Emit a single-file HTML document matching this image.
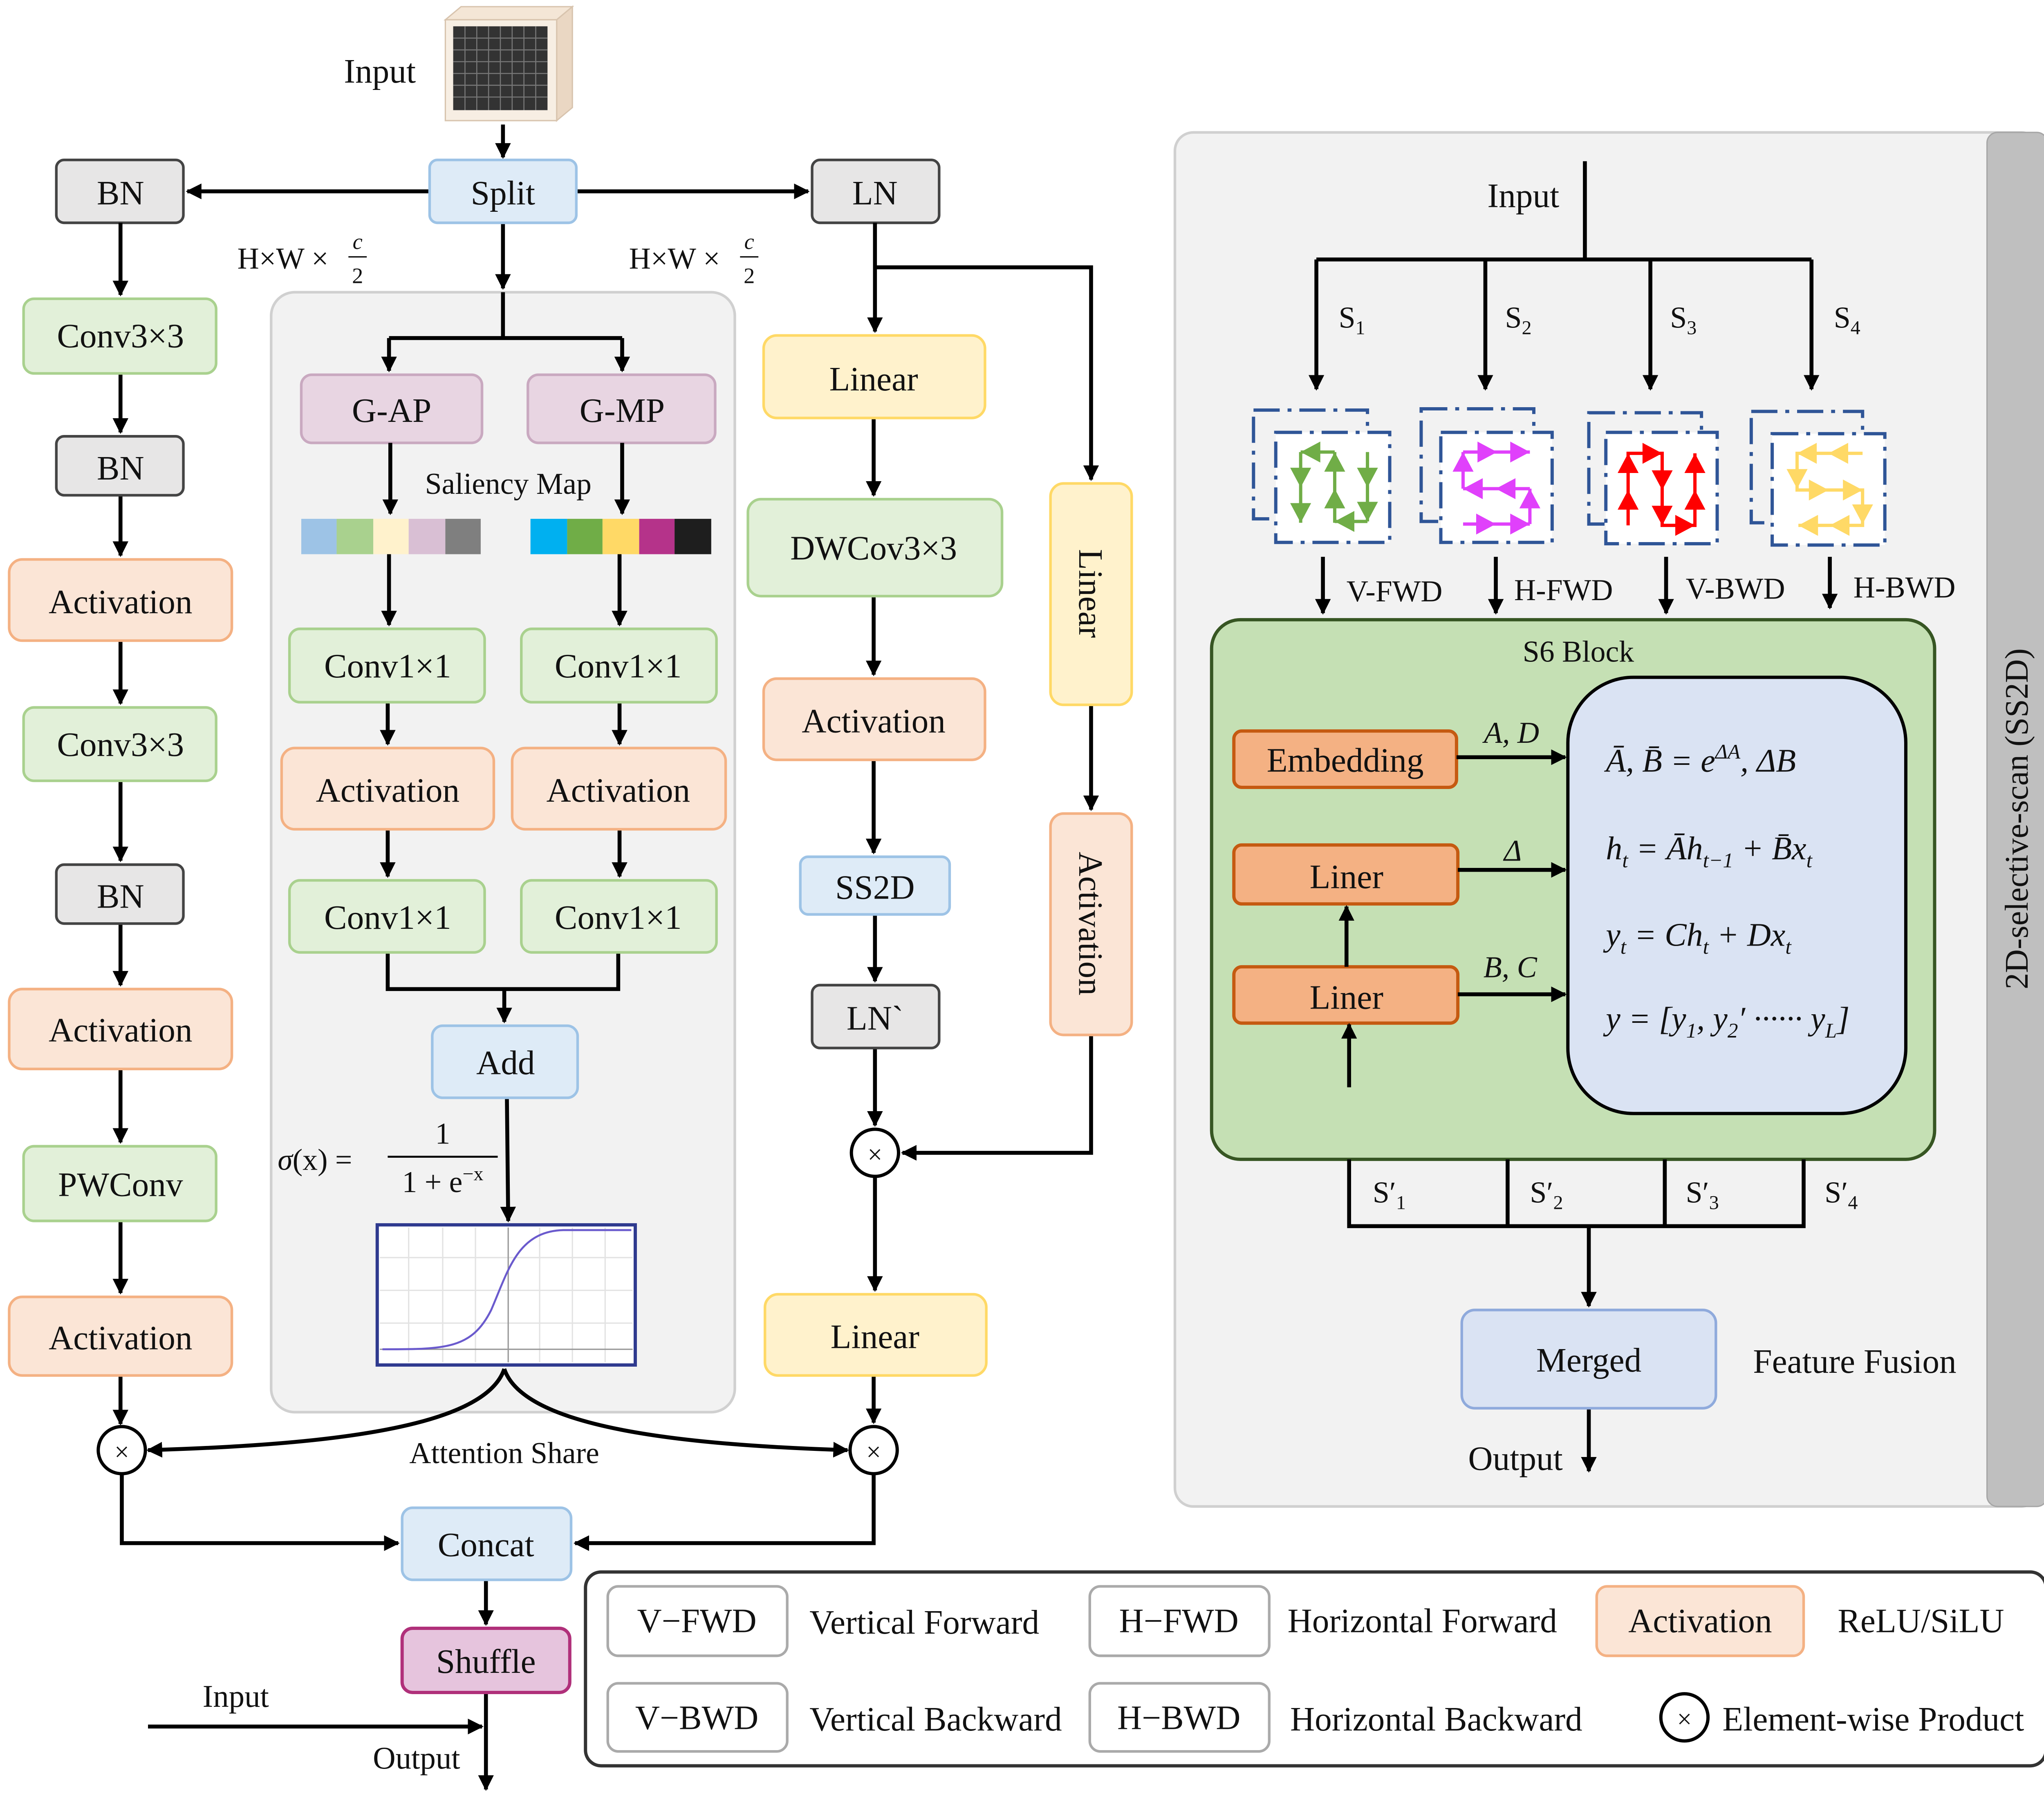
<!DOCTYPE html>
<html><head><meta charset="utf-8"><style>
html,body{margin:0;padding:0;background:#fff}
svg{display:block}
text{font-family:"Liberation Serif",serif;fill:#111}
</style></head><body>
<svg xmlns="http://www.w3.org/2000/svg" width="5024" height="4403" viewBox="0 0 1568 1374">
<defs>
<marker id="a" viewBox="0 0 10 10" refX="9" refY="5" markerWidth="4" markerHeight="4" orient="auto-start-reverse"><path d="M0,0L10,5L0,10z" fill="#000"/></marker>
</defs>
<g font-size="26" text-anchor="middle">
<!-- panels -->
<rect x="207" y="223" width="354" height="855" rx="18" fill="#f2f2f2" stroke="#d0d0d0" stroke-width="2"/>
<rect x="897" y="101" width="660" height="1049" rx="14" fill="#f2f2f2" stroke="#d0d0d0" stroke-width="2"/>
<rect x="1517" y="101" width="46" height="1049" rx="8" fill="#bfbfbf" stroke="#a6a6a6"/>
<text transform="translate(1548,625) rotate(-90)" font-size="25">2D-selective-scan (SS2D)</text>

<!-- input cube -->
<polygon points="340,15 352,5 437,5 425,15" fill="#f4e6d6" stroke="#d8c4ae"/>
<polygon points="425,15 437,5 437,82 425,92" fill="#ead7c3" stroke="#d8c4ae"/>
<rect x="340" y="15" width="85" height="77" fill="#f7eee3" stroke="#d8c4ae"/>
<rect x="346" y="20" width="72" height="64" fill="#333"/>
<g stroke="#777" stroke-width="0.8"><path d="M346,29H418M346,38H418M346,47H418M346,56H418M346,65H418M346,74H418M355,20V84M364,20V84M373,20V84M382,20V84M391,20V84M400,20V84M409,20V84"/></g>
<text x="290" y="63">Input</text>

<!-- top row -->
<g stroke="#000" stroke-width="3" fill="none">
<path d="M384,95V120" marker-end="url(#a)"/>
<path d="M328,146H143" marker-end="url(#a)"/>
<path d="M440,146H617" marker-end="url(#a)"/>
<path d="M384,170V220" marker-end="url(#a)"/>
<path d="M384,223V258M297,258H475" />
<path d="M297,258V283" marker-end="url(#a)"/><path d="M475,258V283" marker-end="url(#a)"/>
</g>
<rect x="328" y="122" width="112" height="48" rx="6" fill="#deebf7" stroke="#9dc3e6" stroke-width="2"/><text x="384" y="156">Split</text>
<rect x="43" y="122" width="97" height="48" rx="6" fill="#e7e6e6" stroke="#444" stroke-width="2"/><text x="92" y="156">BN</text>
<rect x="620" y="122" width="97" height="48" rx="6" fill="#e7e6e6" stroke="#444" stroke-width="2"/><text x="668" y="156">LN</text>
<text x="216" y="205" font-size="23">H×W ×</text><text x="273" y="190" font-size="17" font-style="italic">c</text><line x1="266" y1="196" x2="280" y2="196" stroke="#000"/><text x="273" y="216" font-size="17">2</text>
<text x="515" y="205" font-size="23">H×W ×</text><text x="572" y="190" font-size="17" font-style="italic">c</text><line x1="565" y1="196" x2="579" y2="196" stroke="#000"/><text x="572" y="216" font-size="17">2</text>

<!-- left column -->
<g stroke="#000" stroke-width="3" fill="none">
<path d="M92,170V225" marker-end="url(#a)"/>
<path d="M92,285V330" marker-end="url(#a)"/>
<path d="M92,378V424" marker-end="url(#a)"/>
<path d="M92,489V537" marker-end="url(#a)"/>
<path d="M92,596V657" marker-end="url(#a)"/>
<path d="M92,705V752" marker-end="url(#a)"/>
<path d="M92,816V872" marker-end="url(#a)"/>
<path d="M92,932V987" marker-end="url(#a)"/>
<path d="M92,1050V1087" marker-end="url(#a)"/>
<path d="M93,1125V1178H304" marker-end="url(#a)"/>
</g>
<rect x="18" y="228" width="147" height="57" rx="8" fill="#e2f0d9" stroke="#a9d18e" stroke-width="2"/><text x="92" y="265">Conv3×3</text>
<rect x="43" y="333" width="97" height="45" rx="6" fill="#e7e6e6" stroke="#444" stroke-width="2"/><text x="92" y="366">BN</text>
<rect x="7" y="427" width="170" height="62" rx="10" fill="#fbe5d6" stroke="#f4b183" stroke-width="2"/><text x="92" y="468">Activation</text>
<rect x="18" y="540" width="147" height="56" rx="8" fill="#e2f0d9" stroke="#a9d18e" stroke-width="2"/><text x="92" y="577">Conv3×3</text>
<rect x="43" y="660" width="97" height="45" rx="6" fill="#e7e6e6" stroke="#444" stroke-width="2"/><text x="92" y="693">BN</text>
<rect x="7" y="755" width="170" height="61" rx="10" fill="#fbe5d6" stroke="#f4b183" stroke-width="2"/><text x="92" y="795">Activation</text>
<rect x="18" y="875" width="147" height="57" rx="8" fill="#e2f0d9" stroke="#a9d18e" stroke-width="2"/><text x="92" y="913">PWConv</text>
<rect x="7" y="990" width="170" height="60" rx="10" fill="#fbe5d6" stroke="#f4b183" stroke-width="2"/><text x="92" y="1030">Activation</text>
<circle cx="93" cy="1107" r="18" fill="#fff" stroke="#000" stroke-width="2.5"/><text x="93" y="1115" font-size="20">×</text>

<!-- middle -->
<rect x="230" y="286" width="138" height="52" rx="8" fill="#e8d5e2" stroke="#c9a9c0" stroke-width="2"/><text x="299" y="322">G-AP</text>
<rect x="403" y="286" width="143" height="52" rx="8" fill="#e8d5e2" stroke="#c9a9c0" stroke-width="2"/><text x="475" y="322">G-MP</text>
<text x="388" y="377" font-size="23">Saliency Map</text>
<g stroke="none">
<rect x="230" y="396" width="27" height="27" fill="#9dc3e6"/><rect x="257" y="396" width="28" height="27" fill="#a9d18e"/><rect x="285" y="396" width="27" height="27" fill="#fff2cc"/><rect x="312" y="396" width="28" height="27" fill="#d9bfd4"/><rect x="340" y="396" width="27" height="27" fill="#7f7f7f"/>
<rect x="405" y="396" width="28" height="27" fill="#00b0f0"/><rect x="433" y="396" width="27" height="27" fill="#70ad47"/><rect x="460" y="396" width="28" height="27" fill="#ffd966"/><rect x="488" y="396" width="27" height="27" fill="#b5338a"/><rect x="515" y="396" width="28" height="27" fill="#1e1e1e"/>
</g>
<g stroke="#000" stroke-width="3" fill="none">
<path d="M298,338V392" marker-end="url(#a)"/><path d="M475,338V392" marker-end="url(#a)"/>
<path d="M297,423V477" marker-end="url(#a)"/><path d="M473,423V477" marker-end="url(#a)"/>
<path d="M296,536V568" marker-end="url(#a)"/><path d="M473,536V568" marker-end="url(#a)"/>
<path d="M296,633V669" marker-end="url(#a)"/><path d="M473,633V669" marker-end="url(#a)"/>
<path d="M296,727V755H472V727"/>
<path d="M385,755V780" marker-end="url(#a)"/>
<path d="M387,838L388,932" marker-end="url(#a)"/>
<path d="M385,1045C370,1090 250,1103 113,1107" marker-end="url(#a)"/>
<path d="M385,1045C400,1090 520,1103 647,1107" marker-end="url(#a)"/>
</g>
<rect x="221" y="480" width="149" height="56" rx="8" fill="#e2f0d9" stroke="#a9d18e" stroke-width="2"/><text x="296" y="517">Conv1×1</text>
<rect x="398" y="480" width="149" height="56" rx="8" fill="#e2f0d9" stroke="#a9d18e" stroke-width="2"/><text x="472" y="517">Conv1×1</text>
<rect x="215" y="571" width="162" height="62" rx="10" fill="#fbe5d6" stroke="#f4b183" stroke-width="2"/><text x="296" y="612">Activation</text>
<rect x="391" y="571" width="163" height="62" rx="10" fill="#fbe5d6" stroke="#f4b183" stroke-width="2"/><text x="472" y="612">Activation</text>
<rect x="221" y="672" width="149" height="55" rx="8" fill="#e2f0d9" stroke="#a9d18e" stroke-width="2"/><text x="296" y="709">Conv1×1</text>
<rect x="398" y="672" width="149" height="55" rx="8" fill="#e2f0d9" stroke="#a9d18e" stroke-width="2"/><text x="472" y="709">Conv1×1</text>
<rect x="330" y="783" width="111" height="55" rx="8" fill="#deebf7" stroke="#9dc3e6" stroke-width="2"/><text x="386" y="820">Add</text>
<text x="212" y="893" text-anchor="start" font-size="23"><tspan font-style="italic">σ</tspan>(x) =</text>
<text x="338" y="873" font-size="23">1</text><line x1="296" y1="883" x2="380" y2="883" stroke="#000" stroke-width="1.5"/>
<text x="338" y="910" font-size="23">1 + e<tspan font-size="15" dy="-9">−x</tspan></text>
<rect x="288" y="935" width="197" height="107" fill="#fff" stroke="#2f3a8f" stroke-width="2.5"/>
<g stroke="#e3e3e3" stroke-width="1"><path d="M312,937V1040M338,937V1040M363,937V1040M412,937V1040M437,937V1040M462,937V1040M290,960H483M290,985H483M290,1010H483"/></g>
<line x1="388" y1="937" x2="388" y2="1040" stroke="#999"/><line x1="290" y1="1030" x2="483" y2="1030" stroke="#999"/>
<path d="M292,1030C340,1030 360,1030 375,1000C388,970 395,940 430,939L482,939" stroke="#6a5acd" stroke-width="1.5" fill="none"/>
<text x="385" y="1117" font-size="23">Attention Share</text>

<!-- right column -->
<g stroke="#000" stroke-width="3" fill="none">
<path d="M668,170V253" marker-end="url(#a)"/>
<path d="M668,204H833V366" marker-end="url(#a)"/>
<path d="M667,319V378" marker-end="url(#a)"/>
<path d="M667,455V515" marker-end="url(#a)"/>
<path d="M667,580V651" marker-end="url(#a)"/>
<path d="M668,698V749" marker-end="url(#a)"/>
<path d="M668,800V859" marker-end="url(#a)"/>
<path d="M833,538V618" marker-end="url(#a)"/>
<path d="M833,790V880H689" marker-end="url(#a)"/>
<path d="M668,898V985" marker-end="url(#a)"/>
<path d="M667,1050V1086" marker-end="url(#a)"/>
<path d="M667,1126V1178H439" marker-end="url(#a)"/>
<path d="M371,1206V1240" marker-end="url(#a)"/>
<path d="M371,1292V1366" marker-end="url(#a)"/>
<path d="M113,1318H368" marker-end="url(#a)"/>
</g>
<rect x="583" y="256" width="169" height="63" rx="10" fill="#fff2cc" stroke="#ffd966" stroke-width="2"/><text x="667" y="298">Linear</text>
<rect x="571" y="381" width="194" height="74" rx="10" fill="#e2f0d9" stroke="#a9d18e" stroke-width="2"/><text x="667" y="427">DWCov3×3</text>
<rect x="583" y="518" width="169" height="62" rx="10" fill="#fbe5d6" stroke="#f4b183" stroke-width="2"/><text x="667" y="559">Activation</text>
<rect x="611" y="654" width="114" height="44" rx="6" fill="#deebf7" stroke="#9dc3e6" stroke-width="2"/><text x="668" y="686">SS2D</text>
<rect x="620" y="752" width="97" height="48" rx="6" fill="#e7e6e6" stroke="#444" stroke-width="2"/><text x="668" y="786">LN`</text>
<rect x="802" y="369" width="62" height="169" rx="10" fill="#fff2cc" stroke="#ffd966" stroke-width="2"/><text transform="translate(824,453) rotate(90)">Linear</text>
<rect x="802" y="621" width="62" height="169" rx="10" fill="#fbe5d6" stroke="#f4b183" stroke-width="2"/><text transform="translate(824,705) rotate(90)">Activation</text>
<circle cx="668" cy="880" r="18" fill="#fff" stroke="#000" stroke-width="2.5"/><text x="668" y="888" font-size="20">×</text>
<rect x="584" y="988" width="169" height="62" rx="10" fill="#fff2cc" stroke="#ffd966" stroke-width="2"/><text x="668" y="1029">Linear</text>
<circle cx="667" cy="1107" r="18" fill="#fff" stroke="#000" stroke-width="2.5"/><text x="667" y="1115" font-size="20">×</text>
<rect x="307" y="1151" width="129" height="55" rx="8" fill="#deebf7" stroke="#9dc3e6" stroke-width="2"/><text x="371" y="1188">Concat</text>
<rect x="307" y="1243" width="128" height="49" rx="8" fill="#e6c4dd" stroke="#b0307a" stroke-width="2.5"/><text x="371" y="1277">Shuffle</text>
<text x="180" y="1303" font-size="24">Input</text>
<text x="318" y="1350" font-size="24">Output</text>

<!-- SS2D panel -->
<text x="1163" y="158">Input</text>
<g stroke="#000" stroke-width="3" fill="none">
<path d="M1210,123V198M1005,198H1383"/>
<path d="M1005,198V297" marker-end="url(#a)"/><path d="M1134,198V297" marker-end="url(#a)"/><path d="M1260,198V297" marker-end="url(#a)"/><path d="M1383,198V297" marker-end="url(#a)"/>
<path d="M1010,425V468" marker-end="url(#a)"/><path d="M1142,425V468" marker-end="url(#a)"/><path d="M1272,425V468" marker-end="url(#a)"/><path d="M1397,425V464" marker-end="url(#a)"/>
</g>
<g font-size="23" text-anchor="start">
<text x="1022" y="250">S<tspan font-size="15" dy="5">1</tspan></text><text x="1149" y="250">S<tspan font-size="15" dy="5">2</tspan></text><text x="1275" y="250">S<tspan font-size="15" dy="5">3</tspan></text><text x="1400" y="250">S<tspan font-size="15" dy="5">4</tspan></text>
<text x="1028" y="459">V-FWD</text><text x="1156" y="458">H-FWD</text><text x="1287" y="457">V-BWD</text><text x="1415" y="456">H-BWD</text>
</g>
<!-- scan icons -->
<g stroke="#2f5597" stroke-width="2.5" stroke-dasharray="20,6,3,6">
<rect x="957" y="313" width="87" height="83" fill="none"/><rect x="974" y="330" width="87" height="84" fill="#fff"/>
<rect x="1085" y="312" width="86" height="86" fill="none"/><rect x="1100" y="330" width="85" height="84" fill="#fff"/>
<rect x="1213" y="315" width="86" height="85" fill="none"/><rect x="1226" y="330" width="85" height="85" fill="#fff"/>
<rect x="1337" y="314" width="85" height="85" fill="none"/><rect x="1353" y="331" width="86" height="85" fill="#fff"/>
</g>
<g stroke-width="2.5" fill="none">
<path stroke="#70ad47" d="M993,345V399M1019,345V399M1044,345V398M993,345H1019M1019,398H1044"/>
<path stroke="#e040fb" d="M1117,345H1168M1117,345V373M1117,373H1168M1168,373V400M1117,400H1168"/>
<path stroke="#ff0000" d="M1243,401V346H1269V401H1294V346"/>
<path stroke="#ffd966" d="M1422,346H1372V374H1422V401H1373"/>
</g>
<g fill="#70ad47">
<polygon points="985,357 1001,357 993,372"/><polygon points="985,384 1001,384 993,399"/>
<polygon points="1011,360 1027,360 1019,345"/><polygon points="1011,388 1027,388 1019,373"/>
<polygon points="1036,357 1052,357 1044,372"/><polygon points="1036,383 1052,383 1044,398"/>
<polygon points="1008,337 1008,353 993,345"/><polygon points="1034,390 1034,406 1019,398"/>
</g>
<g fill="#e040fb">
<polygon points="1128,337 1128,353 1143,345"/><polygon points="1153,337 1153,353 1168,345"/>
<polygon points="1109,360 1125,360 1117,345"/><polygon points="1132,365 1132,381 1117,373"/>
<polygon points="1157,365 1157,381 1142,373"/><polygon points="1160,388 1176,388 1168,373"/>
<polygon points="1127,392 1127,408 1142,400"/><polygon points="1153,392 1153,408 1168,400"/>
</g>
<g fill="#ff0000">
<polygon points="1235,361 1251,361 1243,346"/><polygon points="1235,389 1251,389 1243,374"/>
<polygon points="1254,338 1254,354 1269,346"/><polygon points="1261,359 1277,359 1269,374"/>
<polygon points="1261,386 1277,386 1269,401"/><polygon points="1279,393 1279,409 1294,401"/>
<polygon points="1286,361 1302,361 1294,346"/><polygon points="1286,389 1302,389 1294,374"/>
</g>
<g fill="#ffd966">
<polygon points="1387,338 1387,354 1372,346"/><polygon points="1411,338 1411,354 1396,346"/>
<polygon points="1364,358 1380,358 1372,373"/><polygon points="1381,366 1381,382 1396,374"/>
<polygon points="1407,366 1407,382 1422,374"/><polygon points="1414,385 1430,385 1422,400"/>
<polygon points="1388,393 1388,409 1373,401"/><polygon points="1412,393 1412,409 1397,401"/>
</g>
<!-- S6 block -->
<rect x="925" y="473" width="552" height="412" rx="22" fill="#c5e0b4" stroke="#375623" stroke-width="2.5"/>
<text x="1205" y="505" font-size="23">S6 Block</text>
<rect x="942" y="558" width="170" height="43" rx="6" fill="#f4b183" stroke="#c55a11" stroke-width="2.5"/><text x="1027" y="589">Embedding</text>
<rect x="942" y="645" width="171" height="45" rx="6" fill="#f4b183" stroke="#c55a11" stroke-width="2.5"/><text x="1028" y="678">Liner</text>
<rect x="942" y="738" width="171" height="43" rx="6" fill="#f4b183" stroke="#c55a11" stroke-width="2.5"/><text x="1028" y="770">Liner</text>
<g stroke="#000" stroke-width="3" fill="none">
<path d="M1112,578H1195" marker-end="url(#a)"/>
<path d="M1113,664H1195" marker-end="url(#a)"/>
<path d="M1113,759H1195" marker-end="url(#a)"/>
<path d="M1028,738V692" marker-end="url(#a)"/>
<path d="M1030,830V782" marker-end="url(#a)"/>
</g>
<g font-size="23" font-style="italic"><text x="1154" y="567">A, D</text><text x="1155" y="657">Δ</text><text x="1153" y="746">B, C</text></g>
<rect x="1197" y="517" width="258" height="333" rx="50" fill="#dae3f3" stroke="#000" stroke-width="2.5"/>
<g font-size="25" font-style="italic" text-anchor="start">
<text x="1226" y="589">Ā, B̄ = e<tspan font-size="16" dy="-10">ΔA</tspan><tspan dy="10">, ΔB</tspan></text>
<text x="1226" y="656">h<tspan font-size="16" dy="6">t</tspan><tspan dy="-6"> = Āh</tspan><tspan font-size="16" dy="6">t−1</tspan><tspan dy="-6"> + B̄x</tspan><tspan font-size="16" dy="6">t</tspan></text>
<text x="1226" y="722">y<tspan font-size="16" dy="6">t</tspan><tspan dy="-6"> = Ch</tspan><tspan font-size="16" dy="6">t</tspan><tspan dy="-6"> + Dx</tspan><tspan font-size="16" dy="6">t</tspan></text>
<text x="1226" y="786">y = [y<tspan font-size="16" dy="6">1</tspan><tspan dy="-6">, y</tspan><tspan font-size="16" dy="6">2</tspan><tspan dy="-6">′ ······ y</tspan><tspan font-size="16" dy="6">L</tspan><tspan dy="-6">]</tspan></text>
</g>
<g stroke="#000" stroke-width="3" fill="none">
<path d="M1030,885V936H1377V885M1151,885V936M1271,885V936"/>
<path d="M1213,936V997" marker-end="url(#a)"/>
<path d="M1213,1075V1123" marker-end="url(#a)"/>
</g>
<g font-size="23" text-anchor="start"><text x="1048" y="918">S′<tspan font-size="15" dy="5">1</tspan></text><text x="1168" y="918">S′<tspan font-size="15" dy="5">2</tspan></text><text x="1287" y="918">S′<tspan font-size="15" dy="5">3</tspan></text><text x="1393" y="918">S′<tspan font-size="15" dy="5">4</tspan></text></g>
<rect x="1116" y="1000" width="194" height="75" rx="10" fill="#dae3f3" stroke="#8faadc" stroke-width="2"/><text x="1213" y="1047">Merged</text>
<text x="1416" y="1048">Feature Fusion</text>
<text x="1157" y="1122">Output</text>

<!-- legend -->
<rect x="447" y="1200" width="1115" height="148" rx="12" fill="#fff" stroke="#333" stroke-width="2.5"/>
<rect x="464" y="1211" width="137" height="53" rx="8" fill="#fff" stroke="#aaa" stroke-width="2"/><text x="532" y="1246">V−FWD</text>
<rect x="832" y="1211" width="137" height="53" rx="8" fill="#fff" stroke="#aaa" stroke-width="2"/><text x="900" y="1246">H−FWD</text>
<rect x="1219" y="1211" width="158" height="53" rx="8" fill="#fbe5d6" stroke="#f4b183" stroke-width="2"/><text x="1298" y="1246">Activation</text>
<rect x="464" y="1285" width="137" height="52" rx="8" fill="#fff" stroke="#aaa" stroke-width="2"/><text x="532" y="1320">V−BWD</text>
<rect x="832" y="1285" width="137" height="52" rx="8" fill="#fff" stroke="#aaa" stroke-width="2"/><text x="900" y="1320">H−BWD</text>
<g text-anchor="start" font-size="26">
<text x="618" y="1247">Vertical Forward</text><text x="983" y="1246">Horizontal Forward</text><text x="1403" y="1246">ReLU/SiLU</text>
<text x="618" y="1321">Vertical Backward</text><text x="985" y="1321">Horizontal Backward</text><text x="1315" y="1321">Element-wise Product</text>
</g>
<circle cx="1286" cy="1311" r="18" fill="#fff" stroke="#000" stroke-width="2.5"/><text x="1286" y="1319" font-size="20">×</text>
</g>
</svg>
</body></html>
